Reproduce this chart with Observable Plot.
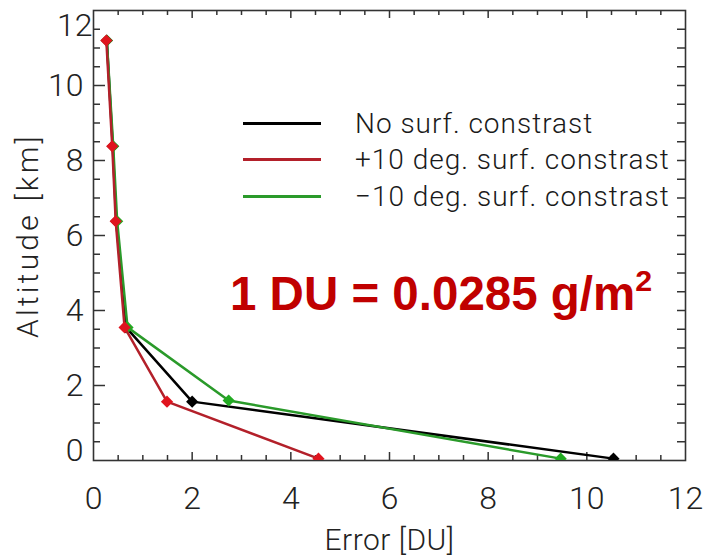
<!DOCTYPE html>
<html>
<head>
<meta charset="utf-8">
<script src="https://cdn.jsdelivr.net/npm/d3@7"></script>
<script src="https://cdn.jsdelivr.net/npm/@observablehq/plot@0.6"></script>
<style>
  html, body { margin: 0; padding: 0; background: #fff; }
  #wrap { position: relative; width: 706px; height: 559px; }
  .legend { position: absolute; left: 243px; top: 105px; font-family: Roboto, "Liberation Sans", sans-serif; font-weight: 300; font-size: 28px; letter-spacing: 1px; color: #1a1a1a; white-space: nowrap; }
  .row { display: flex; align-items: center; height: 36.5px; }
  .sw { width: 78px; height: 3px; margin-right: 34px; }
  .note { position: absolute; left: 230px; top: 270px; font-family: "Liberation Sans", Arial, sans-serif; font-weight: bold; font-size: 47.5px; line-height: 47.5px; color: #c00000; white-space: nowrap; }
  .note sup { font-size: 0.64em; line-height: 0; vertical-align: 0.62em; }
</style>
</head>
<body>
<div id="wrap"></div>
<script>
// ---- data ----
const seriesNames = ["No surf. constrast", "+10 deg. surf. constrast", "\u221210 deg. surf. constrast"];
const altBlack = [11.2, 8.38, 6.38, 3.55, 1.57, 0.05];
const errBlack = [0.27, 0.39, 0.46, 0.66, 2.0, 10.54];
const altRed   = [11.2, 8.38, 6.38, 3.55, 1.57, 0.05];
const errRed   = [0.26, 0.38, 0.45, 0.63, 1.49, 4.56];
const altGreen = [11.2, 8.38, 6.38, 3.55, 1.6, 0.05];
const errGreen = [0.27, 0.40, 0.48, 0.69, 2.74, 9.47];
const xTickLabels = [0, 2, 4, 6, 8, 10, 12];
const yTickLabelsMid = [2, 4, 6, 8, 10];
const xMajor = [2, 4, 6, 8, 10];
const xMinor = [0.5, 1, 1.5, 2.5, 3, 3.5, 4.5, 5, 5.5, 6.5, 7, 7.5, 8.5, 9, 9.5, 10.5, 11, 11.5];
const yMajor = [2, 4, 6, 8, 10];
const yMinor = [0.5, 1, 1.5, 2.5, 3, 3.5, 4.5, 5, 5.5, 6.5, 7, 7.5, 8.5, 9, 9.5, 10.5, 11, 11.5];

const colors = { black: "#000000", redLine: "#b3202a", redDot: "#e0141e", greenLine: "#2a9a2a", greenDot: "#22aa22" };

const toRows = (xs, ys) => xs.map((x, i) => ({ err: x, alt: ys[i] }));
const black = toRows(errBlack, altBlack);
const red = toRows(errRed, altRed);
const green = toRows(errGreen, altGreen);

const W = 706, H = 559, mL = 93, mR = 21, mT = 10, mB = 99;
const fw = W - mL - mR, fh = H - mT - mB;
const axisColor = "#333";
const tickFont = { fontFamily: "Roboto, 'Liberation Sans', sans-serif", fontWeight: 300, fontSize: 32, fill: "#222" };

const chart = Plot.plot({
  width: W, height: H,
  marginLeft: mL, marginRight: mR, marginTop: mT, marginBottom: mB,
  x: { domain: [0, 12] },
  y: { domain: [0, 12] },
  style: { background: "#fff", overflow: "visible" },
  marks: [
    // tick labels
    Plot.axisX(xTickLabels, { tickSize: 0, tickPadding: 26, label: null, ...tickFont }),
    Plot.axisY(yTickLabelsMid, { tickSize: 0, tickPadding: 10, label: null, ...tickFont }),
    Plot.axisY([0], { tickSize: 0, tickPadding: 10, dy: -10, label: null, ...tickFont }),
    Plot.axisY([12], { tickSize: 0, tickPadding: 10, dy: 15, dx: 9, label: null, ...tickFont }),
    // inward ticks on all four sides
    Plot.tickX(xMajor, { x: d => d, insetTop: fh - 8, stroke: axisColor, strokeWidth: 1.5 }),
    Plot.tickX(xMinor, { x: d => d, insetTop: fh - 5, stroke: axisColor, strokeWidth: 1.5 }),
    Plot.tickX(xMajor, { x: d => d, insetBottom: fh - 8, stroke: axisColor, strokeWidth: 1.5 }),
    Plot.tickX(xMinor, { x: d => d, insetBottom: fh - 5, stroke: axisColor, strokeWidth: 1.5 }),
    Plot.tickY(yMajor, { y: d => d, insetRight: fw - 12, stroke: axisColor, strokeWidth: 1.5 }),
    Plot.tickY(yMinor, { y: d => d, insetRight: fw - 7, stroke: axisColor, strokeWidth: 1.5 }),
    Plot.tickY(yMajor, { y: d => d, insetLeft: fw - 8, stroke: axisColor, strokeWidth: 1.5 }),
    Plot.tickY(yMinor, { y: d => d, insetLeft: fw - 8, stroke: axisColor, strokeWidth: 1.5 }),
    Plot.frame({ stroke: axisColor, strokeWidth: 1.6 }),
    // series
    Plot.line(black, { x: "err", y: "alt", stroke: colors.black, strokeWidth: 2.5 }),
    Plot.dot(black, { x: "err", y: "alt", symbol: "diamond2", r: 5.5, fill: colors.black, clip: true }),
    Plot.line(green, { x: "err", y: "alt", stroke: colors.greenLine, strokeWidth: 2.5 }),
    Plot.dot(green, { x: "err", y: "alt", symbol: "diamond2", r: 5.5, fill: colors.greenDot, clip: true }),
    Plot.line(red, { x: "err", y: "alt", stroke: colors.redLine, strokeWidth: 2.5 }),
    Plot.dot(red, { x: "err", y: "alt", symbol: "diamond2", r: 5.5, fill: colors.redDot, clip: true }),
    // axis titles
    Plot.text(["Error [DU]"], { frameAnchor: "bottom", dy: 80, textAnchor: "middle", lineAnchor: "middle", ...tickFont, fontSize: 30 }),
    Plot.text(["Altitude [km]"], { frameAnchor: "left", dx: -65, rotate: -90, textAnchor: "middle", lineAnchor: "middle", ...tickFont, fontSize: 30 })
  ]
});

d3.select(chart).selectAll("text")
  .filter(function () { return this.textContent === "Altitude [km]"; })
  .style("letter-spacing", "3.2px");
d3.select(chart).selectAll("text")
  .filter(function () { return this.textContent === "Error [DU]"; })
  .style("letter-spacing", "0.5px");

const wrap = document.getElementById("wrap");
wrap.appendChild(chart);

const legend = document.createElement("div");
legend.className = "legend";
const swColors = [colors.black, colors.redLine, colors.greenLine];
seriesNames.forEach((name, i) => {
  const row = document.createElement("div");
  row.className = "row";
  const sw = document.createElement("div");
  sw.className = "sw";
  sw.style.background = swColors[i];
  const t = document.createElement("span");
  t.textContent = name;
  row.appendChild(sw);
  row.appendChild(t);
  legend.appendChild(row);
});
wrap.appendChild(legend);

const note = document.createElement("div");
note.className = "note";
note.innerHTML = "1 DU = 0.0285 g/m<sup>2</sup>";
wrap.appendChild(note);
</script>
</body>
</html>
